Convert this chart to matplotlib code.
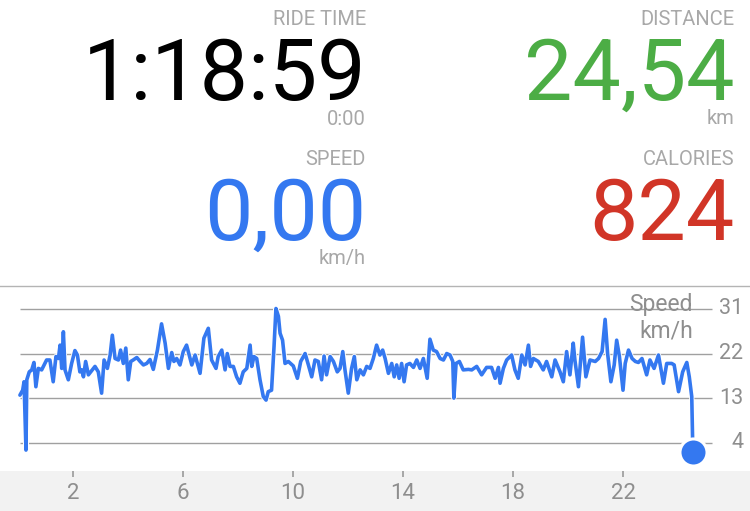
import matplotlib
matplotlib.use("Agg")
import matplotlib.pyplot as plt
import matplotlib.patheffects as pe
from matplotlib.patches import Rectangle

# summary values
ride_time = "1:18:59"
lap_time = "0:00"
distance = "24,54"
speed_now = "0,00"
calories = "824"

# speed trace, distance in km and speed in km/h
km = [0.07, 0.17, 0.22, 0.29, 0.32, 0.41, 0.50, 0.58, 0.65, 0.74, 0.86, 1.04, 1.16, 1.28, 1.38, 1.47,
      1.53, 1.59, 1.65, 1.71, 1.83, 1.95, 2.07, 2.16, 2.25, 2.32, 2.38, 2.46, 2.56, 2.80, 2.92, 3.04,
      3.13, 3.25, 3.35, 3.43, 3.53, 3.65, 3.73, 3.83, 3.92, 4.01, 4.10, 4.19, 4.32, 4.44, 4.56, 4.68,
      4.80, 4.92, 5.07, 5.22, 5.35, 5.47, 5.59, 5.67, 5.77, 5.89, 6.01, 6.13, 6.32, 6.44, 6.62, 6.76,
      6.92, 7.04, 7.20, 7.28, 7.41, 7.53, 7.61, 7.71, 7.83, 7.95, 8.07, 8.19, 8.32,
      8.44, 8.50, 8.58, 8.68, 8.80, 8.92, 9.02, 9.10, 9.22, 9.31, 9.38, 9.47, 9.53, 9.62, 9.71, 9.83,
      10.01, 10.16, 10.28, 10.44, 10.56, 10.68, 10.80, 10.92, 11.04, 11.13, 11.22, 11.35, 11.47, 11.61,
      11.71, 11.81, 11.89, 12.01, 12.13, 12.23, 12.32, 12.44, 12.56, 12.68, 12.80, 12.92, 13.04, 13.16,
      13.26, 13.35, 13.47, 13.59, 13.68, 13.77, 13.86, 13.95, 14.04, 14.13, 14.25, 14.38, 14.50, 14.62,
      14.74, 14.88, 14.98, 15.10, 15.22, 15.35, 15.47, 15.59, 15.71, 15.81, 15.85, 15.93, 16.05, 16.19,
      16.38, 16.50, 16.68, 16.86, 17.04, 17.22, 17.35, 17.47,
      17.53, 17.65, 17.77, 17.95, 18.07, 18.19, 18.32, 18.44, 18.56, 18.64, 18.74, 18.92, 19.10, 19.22,
      19.41, 19.53, 19.71, 19.83, 19.95, 20.07, 20.19, 20.25, 20.38, 20.53, 20.65, 20.80, 20.99, 21.11,
      21.24, 21.35, 21.44, 21.56, 21.68, 21.77, 21.87, 22.00, 22.08, 22.20, 22.33, 22.45, 22.56, 22.69,
      22.86, 22.98, 23.13, 23.29, 23.47, 23.59, 23.77, 23.86, 24.02, 24.17, 24.32, 24.41, 24.50, 24.54]
speed = [13.6, 14.6, 16.3, 2.5, 16.7, 18.3, 18.7, 20.2, 15.3, 19.0, 18.7, 20.7, 20.7, 16.3, 21.4, 21.0,
         23.7, 19.0, 26.4, 18.7, 16.7, 20.0, 22.6, 21.7, 18.3, 18.7, 17.3, 20.4, 17.7, 19.4, 18.3, 14.0,
         20.7, 19.0, 21.7, 25.7, 21.0, 20.7, 22.7, 20.0, 23.1, 16.7, 20.4, 20.7, 21.2, 20.4, 19.7, 20.0,
         20.8, 18.8, 22.7, 28.0, 24.1, 19.0, 22.2, 20.4, 21.0, 19.7, 22.4, 23.7, 19.7, 21.7, 18.0, 25.1,
         27.1, 20.7, 19.0, 21.4, 22.7, 18.7, 22.0, 19.4, 19.4, 17.3, 16.0, 18.3, 19.0,
         23.7, 19.4, 21.4, 21.0, 16.7, 13.3, 12.6, 14.3, 14.6, 23.4, 31.1, 29.5, 26.1, 24.7, 20.0, 20.4,
         19.5, 17.0, 20.4, 22.0, 19.7, 17.3, 20.7, 20.4, 16.7, 21.5, 17.7, 21.4, 20.4, 18.3,
         19.0, 22.4, 18.7, 14.0, 19.0, 21.4, 16.7, 18.7, 17.7, 19.4, 19.0, 21.0, 23.7, 21.7,
         22.7, 21.0, 18.0, 20.0, 17.3, 19.7, 17.0, 20.0, 16.3, 19.7, 20.0, 19.2, 20.7, 19.0,
         21.0, 17.0, 24.9, 22.7, 22.4, 21.0, 20.7, 22.0, 21.7, 20.4, 13.0, 20.0, 20.4, 18.7,
         18.8, 18.7, 19.4, 17.7, 19.2, 19.2, 17.0, 19.2,
         16.0, 19.0, 20.7, 21.7, 18.7, 17.0, 21.7, 19.7, 23.7, 19.4, 21.0, 20.4, 18.7, 20.4,
         17.3, 20.7, 18.3, 16.3, 22.4, 17.7, 24.1, 20.7, 15.3, 25.3, 17.3, 20.7, 20.4, 21.0,
         22.4, 28.9, 22.0, 16.3, 19.7, 24.7, 21.4, 14.6, 20.0, 22.7, 21.0, 20.4, 20.2, 21.0,
         17.7, 20.7, 19.0, 21.7, 16.0, 20.0, 20.0, 19.7, 14.3, 18.3, 20.2, 17.3, 13.3, 2.2]

y_ticks = [4, 13, 22, 31]
x_ticks = [2, 6, 10, 14, 18, 22]

W, H = 750, 511
fam = ["Roboto", "DejaVu Sans"]
label_gray = "#a8a8a8"
axis_gray = "#8e8e8e"
blue = "#3478f0"
green = "#4cad45"
red = "#d13527"

fig = plt.figure(figsize=(7.5, 5.11), dpi=100)
fig.patch.set_facecolor("white")


def ftext(x, y, s, size, color):
    fig.text(x / W, 1 - y / H, s, ha="right", va="baseline", fontsize=size,
             color=color, family=fam)


# stats panel
ftext(366, 25, "RIDE TIME", 14.5, label_gray)
ftext(366, 100, ride_time, 62, "black")
ftext(366, 125, lap_time, 14.5, label_gray)
ftext(734, 25, "DISTANCE", 14.5, label_gray)
ftext(734, 100, distance, 62, green)
ftext(734, 124, "km", 14.5, label_gray)
ftext(366, 165, "SPEED", 14.5, label_gray)
ftext(366, 240, speed_now, 62, blue)
ftext(366, 264, "km/h", 14.5, label_gray)
ftext(734, 165, "CALORIES", 14.5, label_gray)
ftext(734, 240, calories, 62, red)

# grey band under the chart
fig.patches.append(Rectangle((0, 0), 1, 40 / H, transform=fig.transFigure,
                             facecolor="#f2f2f2", edgecolor="none", zorder=-5))

ax = fig.add_axes([0, 40 / H, 1, 185 / H])
ax.set_facecolor("white")
ax.set_xlim(-18 / 27.5, (W - 18) / 27.5)
ax.set_ylim(31 - 162 / 4.95, 31 + 23 / 4.95)
for side in ["left", "right", "bottom"]:
    ax.spines[side].set_visible(False)
ax.spines["top"].set_color("#b4b4b4")
ax.spines["top"].set_linewidth(1)

ax.hlines(y_ticks, 2 / 27.5, (712 - 18) / 27.5, color="#a0a0a0", lw=1, zorder=1)
ax.set_yticks([])
ax.set_xticks(x_ticks)
ax.set_xticklabels([str(t) for t in x_ticks], family=fam, fontsize=16, color=axis_gray)
ax.tick_params(axis="x", direction="out", length=4.5, width=1.2, color="#9a9a9a", pad=4)

for t in y_ticks:
    ax.text(743 / W, t, str(t), transform=ax.get_yaxis_transform(), ha="right", va="center",
            fontsize=15.5, color=axis_gray, family=fam)
ax.text(693 / W, 31 - (304 - 309) / 4.95, "Speed", transform=ax.get_yaxis_transform(),
        ha="right", va="center", fontsize=16.5, color=axis_gray, family=fam)
ax.text(693 / W, 31 - (331 - 309) / 4.95, "km/h", transform=ax.get_yaxis_transform(),
        ha="right", va="center", fontsize=16.5, color=axis_gray, family=fam)

ax.plot(km, speed, color=blue, lw=2.6, solid_joinstyle="round", solid_capstyle="round", zorder=3,
        path_effects=[pe.Stroke(linewidth=3.8, foreground="white"), pe.Normal()])
ax.scatter(km[-1:], speed[-1:], s=380, color=blue, edgecolor="white", linewidth=2.2,
           zorder=4, clip_on=False)

fig.savefig("out.png", dpi=100)
